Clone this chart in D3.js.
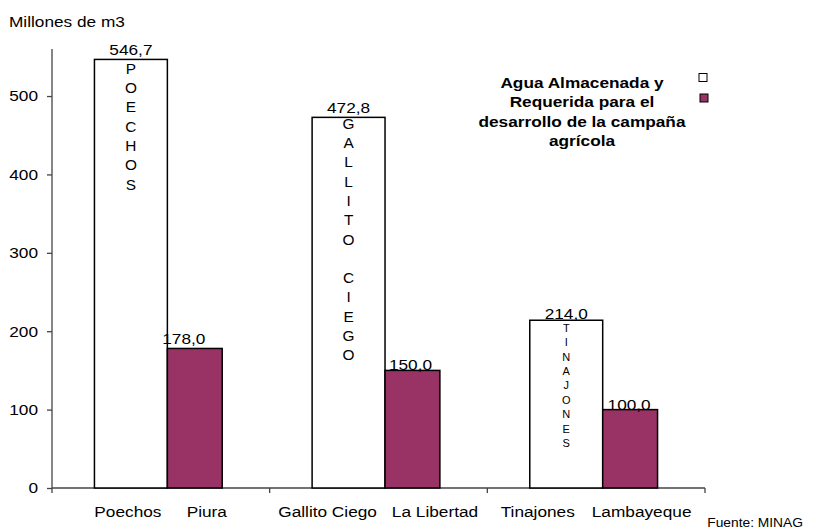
<!DOCTYPE html>
<html><head><meta charset="utf-8">
<script src="https://cdn.jsdelivr.net/npm/d3@7"></script>
<style>body{margin:0;background:#fff}svg{display:block;font-family:"Liberation Sans",Arial,sans-serif}</style>
</head><body><svg id="c" width="816" height="530"></svg>
<script>
const reservoirs = ["Poechos", "Gallito Ciego", "Tinajones"];
const regions = ["Piura", "La Libertad", "Lambayeque"];
const stored = [546.7, 472.8, 214.0];
const required = [178.0, 150.0, 100.0];
const innerLabels = ["POECHOS", "GALLITO CIEGO", "TINAJONES"];
const yTicks = [0, 100, 200, 300, 400, 500];
const legendLines = ["Agua Almacenada  y", "Requerida para el", "desarrollo de la campaña", "agrícola"];
const yTitle = "Millones de m3";
const source = "Fuente: MINAG";

// layout constants (label nudges relative to bar centres / tops)
const nudgeRes = [-3, -21, -28.5];
const nudgeReg = [12, 22.5, 11.5];
const nudgeValReq = [-11, -2, -1];
const liftValSto = [4, 4, 1.5];
const liftValReq = [4, 0, 0];

const purple = "#993366";
const K = 1.15;
const svg = d3.select("#c");
const fmt = d3.formatLocale({decimal: ",", thousands: ".", grouping: [3], currency: ["", ""]}).format(".1f");

function T(parent, x, y, s, o = {}) {
  const t = parent.append("text")
    .attr("transform", `translate(${x},${y}) scale(${o.k || K},1)`)
    .attr("text-anchor", o.anchor || "start")
    .attr("font-size", o.size || 15)
    .attr("font-weight", o.weight || "normal")
    .attr("fill", "#000")
    .text(s);
  if (o.dy) t.attr("dy", o.dy);
  return t;
}

const x = d3.scaleBand().domain(reservoirs).range([52, 705]).padding(0);
const y = d3.scaleLinear().domain([0, 560]).range([488, 49]);
const bw = x.bandwidth();
const sx = d3.scaleLinear().domain([0, 1]).range([0, bw]);
const wStart = sx(0.195), wWidth = sx(0.335), pWidth = sx(0.252);

// y axis
const yAxis = d3.axisLeft(y).tickValues(yTicks).tickSize(5).tickPadding(9).tickFormat(d3.format("d"));
const gy = svg.append("g").attr("transform", "translate(52,0)").call(yAxis);
gy.select(".domain").attr("d", `M0,${y(560)}V${y(0) + 5}`).attr("stroke", "#444").attr("stroke-width", 1.3);
gy.selectAll(".tick line").attr("stroke", "#444").attr("stroke-width", 1.3);
gy.selectAll(".tick text").attr("font-size", 15).attr("fill", "#000")
  .attr("font-family", "Liberation Sans, Arial, sans-serif")
  .attr("x", -14 / K).attr("transform", `scale(${K},1)`);

// x axis line with group separators
const gx = svg.append("g");
gx.append("line").attr("x1", 52).attr("x2", 705).attr("y1", y(0)).attr("y2", y(0)).attr("stroke", "#444").attr("stroke-width", 1.3);
const seps = reservoirs.map(r => x(r) + bw);
gx.selectAll(".sep").data(seps).join("line").attr("x1", d => d).attr("x2", d => d)
  .attr("y1", y(0)).attr("y2", y(0) + 5).attr("stroke", "#444").attr("stroke-width", 1.3);

// bars
const data = reservoirs.map((r, i) => ({r, reg: regions[i], s: stored[i], q: required[i], lab: innerLabels[i], i}));
const g = svg.append("g");
data.forEach(d => {
  const x0 = x(d.r) + wStart;
  const x1 = x0 + wWidth;
  g.append("rect").attr("x", x0).attr("y", y(d.s)).attr("width", wWidth).attr("height", y(0) - y(d.s))
    .attr("fill", "#fff").attr("stroke", "#000").attr("stroke-width", 1.5);
  g.append("rect").attr("x", x1).attr("y", y(d.q)).attr("width", pWidth).attr("height", y(0) - y(d.q))
    .attr("fill", purple).attr("stroke", "#000").attr("stroke-width", 1.5);
  // stacked vertical label
  const small = d.i === 2;
  const fs = small ? 10 : 14;
  const step = small ? 14.4 : 19.3;
  const top = y(d.s) + (small ? 8 : (d.i === 0 ? 9.5 : 6.5));
  d.lab.split("").forEach((ch, k) => {
    if (ch === " ") return;
    T(g, x0 + wWidth / 2, top + k * step, ch, {size: fs, anchor: "middle", dy: "0.35em", k: 1.1});
  });
  // value labels
  T(g, x0 + wWidth / 2, y(d.s) - liftValSto[d.i], fmt(d.s), {anchor: "middle"});
  T(g, x1 + pWidth / 2 + nudgeValReq[d.i], y(d.q) - liftValReq[d.i], fmt(d.q), {anchor: "middle"});
  // category labels
  T(g, x0 + wWidth / 2 + nudgeRes[d.i], 516.5, d.r, {anchor: "middle"});
  T(g, x1 + pWidth / 2 + nudgeReg[d.i], 516.5, d.reg, {anchor: "middle"});
});

// title
T(svg, 9, 27, yTitle);

// legend
const lg = svg.append("g");
legendLines.forEach((l, i) => T(lg, 582, 87.5 + i * 19.5, l, {anchor: "middle", weight: "bold"}));
lg.append("rect").attr("x", 699).attr("y", 73.5).attr("width", 8).attr("height", 8).attr("fill", "#fff").attr("stroke", "#000").attr("stroke-width", 1);
lg.append("rect").attr("x", 700).attr("y", 94).attr("width", 8).attr("height", 8).attr("fill", purple).attr("stroke", "#000").attr("stroke-width", 1);

// source
T(svg, 803, 527, source, {anchor: "end", size: 12});
</script></body></html>
